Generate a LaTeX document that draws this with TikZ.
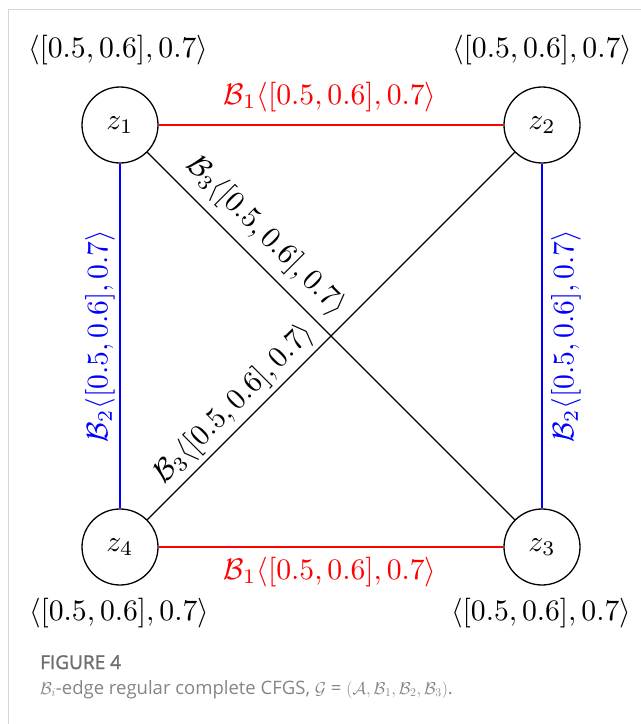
\documentclass[tikz,border=0pt]{standalone}
\usepackage{graphicx}
\usepackage{fontspec}
\newfontfamily\capfont{Open Sans}
\newfontfamily\capfontb{Open Sans}[FakeBold=1.5]
\newcommand{\bigtxt}[1]{\scalebox{2.98}{#1}}
\definecolor{capgray}{HTML}{858585}
\definecolor{capdark}{HTML}{6E6E6E}
\definecolor{framegray}{HTML}{D6D6D6}
\tikzset{
  vtx/.style={circle, draw, line width=1.3bp, minimum size=76bp, inner sep=0pt, font=\fontsize{10}{12}\selectfont},
  vlab/.style={inner sep=0pt, font=\fontsize{10}{12}\selectfont},
  elab/.style={inner sep=0pt, font=\fontsize{10}{12}\selectfont},
  redge/.style={draw=red, line width=1.3bp},
  bedge/.style={draw=blue, line width=1.3bp},
  kedge/.style={draw=black, line width=1.3bp},
  framel/.style={draw=framegray, line width=1.5bp}
}
\begin{document}
\begin{tikzpicture}[x=1bp, y=-1bp]
\useasboundingbox (0,0) rectangle (641,724);
% frame
\coordinate (fa) at (8.5,724);
\coordinate (fb) at (8.5,9.5);
\coordinate (fc) at (641,9.5);
\draw[framel] (fa) -- (fb) -- (fc);
% vertices
\node[vtx] (z1) at (120,125) {\bigtxt{$z_1$}};
\node[vtx] (z2) at (542,125) {\bigtxt{$z_2$}};
\node[vtx] (z3) at (542,547) {\bigtxt{$z_3$}};
\node[vtx] (z4) at (120,547) {\bigtxt{$z_4$}};
% edges
\draw[redge] (z1) -- (z2);
\draw[redge] (z4) -- (z3);
\draw[bedge] (z1) -- (z4);
\draw[bedge] (z2) -- (z3);
\draw[kedge] (z1) -- (z3);
\draw[kedge] (z4) -- (z2);
% vertex labels
\node[vlab] (l1) at (118,50) {\bigtxt{$\langle[0.5,0.6],0.7\rangle$}};
\node[vlab] (l2) at (542,50) {\bigtxt{$\langle[0.5,0.6],0.7\rangle$}};
\node[vlab] (l3) at (541,613) {\bigtxt{$\langle[0.5,0.6],0.7\rangle$}};
\node[vlab] (l4) at (119,613) {\bigtxt{$\langle[0.5,0.6],0.7\rangle$}};
% edge labels
\node[elab, text=red] (e12) at (330,97) {\bigtxt{$\mathcal{B}_1\langle[0.5,0.6],0.7\rangle$}};
\node[elab, text=red] (e43) at (330,572) {\bigtxt{$\mathcal{B}_1\langle[0.5,0.6],0.7\rangle$}};
\node[elab, text=blue, rotate=90] (e14) at (100,336) {\bigtxt{$\mathcal{B}_2\langle[0.5,0.6],0.7\rangle$}};
\node[elab, text=blue, rotate=90] (e23) at (566,336) {\bigtxt{$\mathcal{B}_2\langle[0.5,0.6],0.7\rangle$}};
\node[elab, rotate=-45] (e13) at (266,236) {\bigtxt{$\mathcal{B}_3\langle[0.5,0.6],0.7\rangle$}};
\node[elab, rotate=45] (e42) at (234,404) {\bigtxt{$\mathcal{B}_3\langle[0.5,0.6],0.7\rangle$}};
% caption
\node[anchor=base west, inner sep=0pt, text=capdark, font=\capfontb\fontsize{19bp}{22bp}\selectfont] (cap1) at (40,669) {FIGURE 4};
\node[anchor=base west, inner sep=0pt, text=capgray, font=\capfont\fontsize{18.5bp}{22bp}\selectfont] (cap2) at (40,694) {$\mathcal{B}_i$-edge regular complete CFGS, $\mathcal{G}$ = $(\mathcal{A},\mathcal{B}_1,\mathcal{B}_2,\mathcal{B}_3)$.};
\end{tikzpicture}
\end{document}
